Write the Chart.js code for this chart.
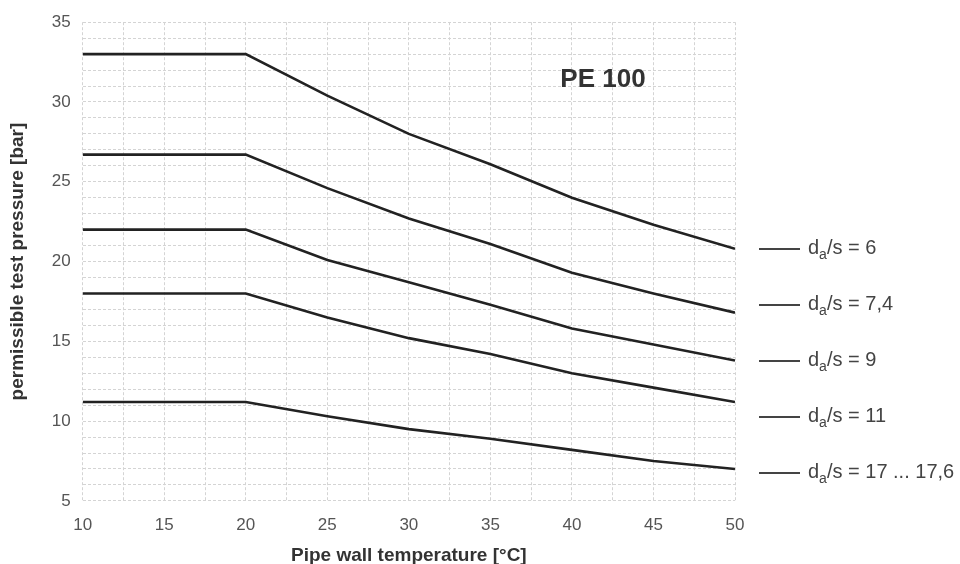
<!DOCTYPE html>
<html>
<head>
<meta charset="utf-8">
<script src="https://cdn.jsdelivr.net/npm/chart.js@4.4.0/dist/chart.umd.min.js"></script>
<style>
  html, body { margin: 0; padding: 0; background: #fff; }
  #wrap { width: 960px; height: 564px; position: relative; }
</style>
</head>
<body>
<div id="wrap"><canvas id="myChart" width="960" height="564"></canvas></div>
<script>
'use strict';

// pipe wall temperature [°C]
const temps = [10, 20, 25, 30, 35, 40, 45, 50];

// permissible test pressure [bar], one array per d_a/s ratio
const sdr6 = [33, 33, 30.4, 28.0, 26.1, 24.0, 22.3, 20.8];
const sdr74 = [26.7, 26.7, 24.6, 22.7, 21.1, 19.3, 18.0, 16.8];
const sdr9 = [22.0, 22.0, 20.1, 18.7, 17.3, 15.8, 14.8, 13.8];
const sdr11 = [18.0, 18.0, 16.5, 15.2, 14.2, 13.0, 12.1, 11.2];
const sdr17 = [11.2, 11.2, 10.3, 9.5, 8.9, 8.2, 7.5, 7.0];

const seriesNames = ['6', '7,4', '9', '11', '17 ... 17,6'];
const allSeries = [sdr6, sdr74, sdr9, sdr11, sdr17];

const chartCanvas = document.getElementById('myChart');
const textColor = '#555';
const font = 'Liberation Sans, Arial, sans-serif';

function toPoints(values) {
  const pts = [];
  for (let i = 0; i < temps.length; i++) {
    pts.push({ x: temps[i], y: values[i] });
  }
  return pts;
}

// legend at the right side + "PE 100" label
const extraText = {
  id: 'extraText',
  afterDraw(chart) {
    const ctx = chart.ctx;
    const area = chart.chartArea;
    ctx.save();
    ctx.fillStyle = '#333';
    ctx.font = 'bold 26px ' + font;
    ctx.textAlign = 'center';
    ctx.textBaseline = 'middle';
    ctx.fillText('PE 100', 603, 80);

    let y = 249;
    for (let i = 0; i < seriesNames.length; i++) {
      ctx.strokeStyle = '#444';
      ctx.lineWidth = 1.8;
      ctx.beginPath();
      ctx.moveTo(area.right + 24, y);
      ctx.lineTo(area.right + 65, y);
      ctx.stroke();

      ctx.fillStyle = '#444';
      ctx.textAlign = 'left';
      ctx.textBaseline = 'middle';
      let tx = area.right + 73;
      ctx.font = '20px ' + font;
      ctx.fillText('d', tx, y - 1);
      tx += ctx.measureText('d').width;
      ctx.font = '14px ' + font;
      ctx.fillText('a', tx, y + 6);
      tx += ctx.measureText('a').width;
      ctx.font = '20px ' + font;
      ctx.fillText('/s = ' + seriesNames[i], tx, y - 1);
      y += 56;
    }
    ctx.restore();
  }
};

const datasets = [];
for (let i = 0; i < allSeries.length; i++) {
  datasets.push({
    label: 'da/s = ' + seriesNames[i],
    data: toPoints(allSeries[i]),
    borderColor: '#222',
    borderWidth: 2.6,
    pointRadius: 0,
    tension: 0,
    fill: false
  });
}

new Chart(chartCanvas, {
  type: 'line',
  data: { datasets: datasets },
  plugins: [extraText],
  options: {
    responsive: false,
    animation: false,
    layout: { padding: { top: 12, right: 225, left: 6, bottom: 0 } },
    plugins: {
      legend: { display: false },
      tooltip: { enabled: false }
    },
    scales: {
      x: {
        type: 'linear',
        min: 10,
        max: 50,
        afterFit: scale => { scale.height -= 3; },
        border: { display: false, dash: [3, 2] },
        grid: { color: '#d4d4d4', lineWidth: 1, drawTicks: false },
        ticks: {
          stepSize: 2.5,
          autoSkip: false,
          maxRotation: 0,
          padding: 16,
          color: textColor,
          font: { family: font, size: 17, lineHeight: 1 },
          callback: v => (v % 5 === 0 ? v : '')
        },
        title: {
          display: true,
          text: 'Pipe wall temperature [°C]',
          color: '#333',
          font: { family: font, size: 19, weight: 'bold', lineHeight: 0.9 },
          padding: { top: 0, bottom: 0 }
        }
      },
      y: {
        min: 5,
        max: 35,
        border: { display: false, dash: [3, 2] },
        grid: { color: '#d4d4d4', lineWidth: 1, drawTicks: false },
        ticks: {
          stepSize: 1,
          autoSkip: false,
          padding: 12,
          color: textColor,
          font: { family: font, size: 17 },
          callback: v => (v % 5 === 0 ? v : '')
        },
        title: {
          display: true,
          text: 'permissible test pressure [bar]',
          color: '#333',
          font: { family: font, size: 19, weight: 'bold' },
          padding: { top: 0, bottom: 11 }
        }
      }
    }
  }
});
</script>
</body>
</html>
